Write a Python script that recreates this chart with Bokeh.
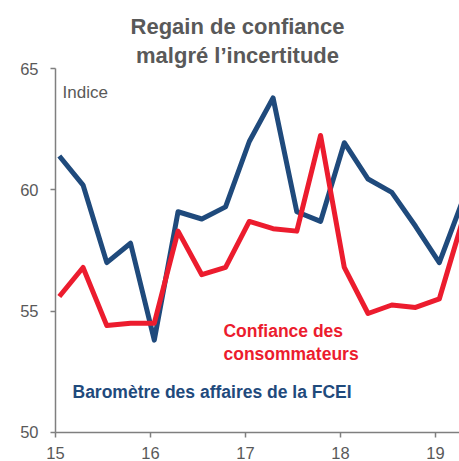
from bokeh.plotting import figure
from bokeh.models import Range1d, FixedTicker, Label, ColumnDataSource
from bokeh.embed import file_html
from bokeh.resources import INLINE

# Quarterly observations (decimal years, mid first month of quarter)
periods = [15.04, 15.29, 15.54, 15.79,
           16.04, 16.29, 16.54, 16.79,
           17.04, 17.29, 17.54, 17.79,
           18.04, 18.29, 18.54, 18.79,
           19.04, 19.29]
barometre = [61.4, 60.2, 57.0, 57.8,
             53.8, 59.1, 58.8, 59.3,
             62.0, 63.8, 59.1, 58.7,
             61.95, 60.45, 59.9, 58.5,
             57.0, 59.6]
consommateurs = [55.6, 56.8, 54.4, 54.5,
                 54.5, 58.3, 56.5, 56.8,
                 58.7, 58.4, 58.3, 62.25,
                 56.8, 54.9, 55.25, 55.15,
                 55.5, 58.8]
x_ticks = [15, 16, 17, 18, 19]
y_ticks = [50, 55, 60, 65]

BLUE = "#1f4a7c"
RED = "#ec1c2e"
GRAY = "#595959"
AXIS = "#7f7f7f"
FONT = "Liberation Sans"

src = ColumnDataSource(dict(x=periods, b=barometre, c=consommateurs))

p = figure(width=459, height=461, output_backend="svg", toolbar_location=None,
           x_range=Range1d(14.4211, 19.2526), y_range=Range1d(48.791, 67.819),
           min_border_left=0, min_border_right=0, min_border_top=0,
           min_border_bottom=0)
p.outline_line_color = None
p.xgrid.visible = False
p.ygrid.visible = False
p.background_fill_color = "white"
p.border_fill_color = "white"

p.line("x", "b", source=src, line_color=BLUE, line_width=5, line_join="round")
p.line("x", "c", source=src, line_color=RED, line_width=5, line_join="round")

for ax in (p.xaxis[0], p.yaxis[0]):
    ax.axis_line_color = AXIS
    ax.axis_line_width = 1.5
    ax.major_tick_line_color = AXIS
    ax.major_tick_line_width = 1.5
    ax.major_tick_out = 5
    ax.major_tick_in = 0
    ax.minor_tick_line_color = None
    ax.major_label_text_font = FONT
    ax.major_label_text_font_size = "16.5px"
    ax.major_label_text_color = GRAY

p.xaxis.ticker = FixedTicker(ticks=x_ticks)
p.yaxis.ticker = FixedTicker(ticks=y_ticks)
p.xaxis.fixed_location = 50
p.yaxis.fixed_location = 15
p.xaxis.bounds = (15, 19.2526)
p.yaxis.bounds = (50, 65)
p.xaxis.major_label_standoff = 10
p.yaxis.major_label_standoff = 12


def label(x, y, text, size, color, bold=False, align="left"):
    p.add_layout(Label(x=x, y=y, text=text, text_align=align, text_baseline="alphabetic",
                       text_font=FONT, text_font_size=size,
                       text_font_style="bold" if bold else "normal", text_color=color))


title_x = 16.916
label(title_x, 66.75, "Regain de confiance", "22px", GRAY, True, "center")
label(title_x, 65.55, "malgré l’incertitude", "22px", GRAY, True, "center")
label(15.074, 64.02, "Indice", "17px", GRAY)
label(16.768, 54.16, "Confiance des", "17.5px", RED, True)
label(16.768, 53.21, "consommateurs", "17.5px", RED, True)
label(15.179, 51.64, "Baromètre des affaires de la FCEI", "17.5px", BLUE, True)

open("out.html", "w").write(file_html(p, INLINE))
